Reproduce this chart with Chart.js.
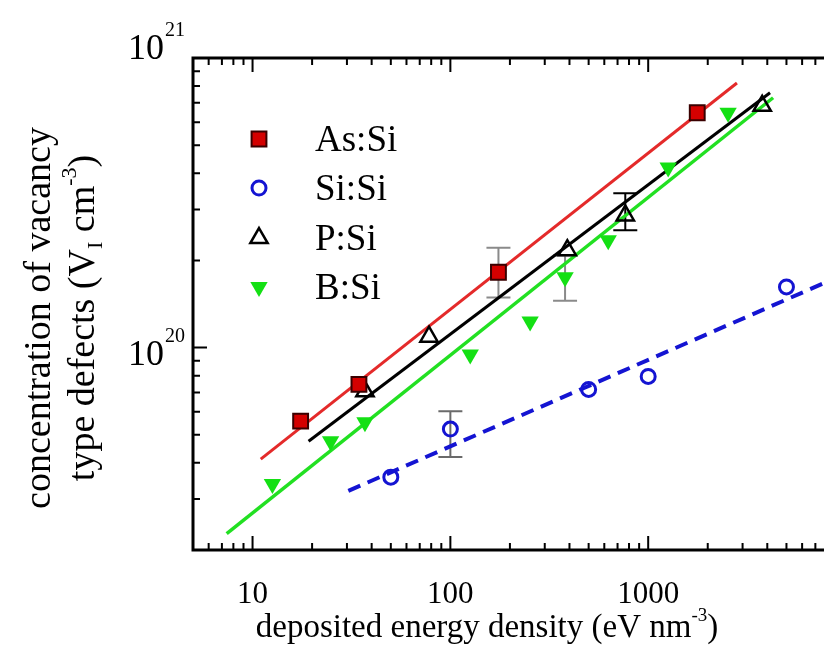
<!DOCTYPE html>
<html>
<head>
<meta charset="utf-8">
<script src="https://cdn.jsdelivr.net/npm/chart.js@4/dist/chart.umd.min.js"></script>
<style>
  html, body { margin: 0; padding: 0; background: #fff; overflow: hidden; }
  #wrap { width: 824px; height: 664px; position: relative; }
</style>
</head>
<body>
<div id="wrap"><canvas id="chart"></canvas></div>
<script>
// values (x: eV nm^-3, y: V_I cm^-3)
const asX = [17.5, 34.5, 175, 1770];
const asY = [5.57e19, 7.46e19, 1.82e20, 6.47e20];
const siX = [50, 100, 500, 1000, 5000];
const siY = [3.57e19, 5.23e19, 7.17e19, 7.95e19, 1.62e20];
const pX = [37, 78, 390, 766, 3770];
const pY = [7.06e19, 1.09e20, 2.17e20, 2.86e20, 6.84e20];
const bX = [12.6, 24.8, 37, 126, 253, 380, 628, 1262, 2535];
const bY = [3.38e19, 4.75e19, 5.52e19, 9.46e19, 1.23e20, 1.75e20, 2.35e20, 4.19e20, 6.47e20];

// error bars: x, low, high
const asErr = [[175, 1.49e20, 2.21e20]];
const siErr = [[100, 4.19e19, 6.03e19]];
const pErr = [[766, 2.54e20, 3.41e20]];
const bErr = [[380, 1.45e20, 2.08e20]];

// fitted lines (end points)
const asFitX = [11.0, 2810];
const asFitY = [4.12e19, 8.2e20];
const pFitX = [19.2, 4130];
const pFitY = [4.75e19, 7.59e20];
const bFitX = [7.4, 4280];
const bFitY = [2.28e19, 7.29e20];
const siFitX = [30.5, 7740];
const siFitY = [3.2e19, 1.67e20];

// axis ticks
const xMajor = [10, 100, 1000];
const xMinor = [5, 6, 7, 8, 9, 20, 30, 40, 50, 60, 70, 80, 90, 200, 300, 400, 500, 600, 700, 800, 900, 2000, 3000, 4000, 5000, 6000, 7000];
const yMajor = [1e20, 1e21];
const yMinor = [3e19, 4e19, 5e19, 6e19, 7e19, 8e19, 9e19, 2e20, 3e20, 4e20, 5e20, 6e20, 7e20, 8e20, 9e20];

const SERIF = '"Liberation Serif", "DejaVu Serif", serif';

function pts(xs, ys) {
    return xs.map((x, i) => ({ x: x, y: ys[i] }));
}

function errs(list, color) {
    return list.map(e => ({ x: e[0], lo: e[1], hi: e[2], color: color }));
}

// text made of pieces: [text, 'sup' | 'sub' | undefined]
function richText(ctx, parts, x, y, size, align) {
    const small = Math.round(size * 0.58);
    let total = 0;
    parts.forEach(p => {
        ctx.font = (p[1] ? small : size) + 'px ' + SERIF;
        total += ctx.measureText(p[0]).width;
    });
    let cx = align === 'center' ? x - total / 2 : align === 'right' ? x - total : x;
    ctx.textAlign = 'left';
    ctx.textBaseline = 'alphabetic';
    parts.forEach(p => {
        ctx.font = (p[1] ? small : size) + 'px ' + SERIF;
        let dy = 0;
        if (p[1] === 'sup') dy = -size * 0.48;
        if (p[1] === 'sub') dy = size * 0.22;
        ctx.fillText(p[0], cx, y + dy);
        cx += ctx.measureText(p[0]).width;
    });
}

function marker(ctx, ds, x, y) {
    ctx.save();
    ctx.fillStyle = ds.backgroundColor;
    ctx.strokeStyle = ds.borderColor || ds.backgroundColor;
    ctx.lineWidth = ds.borderWidth || 0;
    Chart.helpers.drawPoint(ctx, {
        pointStyle: ds.pointStyle,
        radius: ds.pointRadius,
        rotation: ds.pointRotation || 0,
        borderWidth: ds.borderWidth || 0
    }, x, y);
    ctx.restore();
}

const framePlugin = {
    id: 'frame',
    beforeDatasetsDraw(chart) {
        const { ctx, scales: { x, y } } = chart;
        ctx.save();
        ctx.lineWidth = 2;
        chart.data.datasets.forEach(ds => {
            (ds.errorBars || []).forEach(e => {
                const px = x.getPixelForValue(e.x);
                const lo = y.getPixelForValue(e.lo);
                const hi = y.getPixelForValue(e.hi);
                ctx.strokeStyle = e.color;
                ctx.beginPath();
                ctx.moveTo(px, lo); ctx.lineTo(px, hi);
                ctx.moveTo(px - 12, lo); ctx.lineTo(px + 12, lo);
                ctx.moveTo(px - 12, hi); ctx.lineTo(px + 12, hi);
                ctx.stroke();
            });
        });
        ctx.restore();
    },
    afterDraw(chart) {
        const { ctx, chartArea: a, scales: { x, y } } = chart;
        ctx.save();

        // frame (right side is cut off in the original)
        ctx.strokeStyle = '#000';
        ctx.lineWidth = 3;
        ctx.beginPath();
        ctx.moveTo(a.right + 2, a.top);
        ctx.lineTo(a.left, a.top);
        ctx.lineTo(a.left, a.bottom);
        ctx.lineTo(a.right + 2, a.bottom);
        ctx.stroke();

        // inward ticks
        ctx.lineWidth = 2;
        ctx.beginPath();
        const xt = (v, len) => {
            const px = x.getPixelForValue(v);
            if (px <= a.left + 2) return;
            ctx.moveTo(px, a.bottom); ctx.lineTo(px, a.bottom - len);
            ctx.moveTo(px, a.top); ctx.lineTo(px, a.top + len);
        };
        xMajor.forEach(v => xt(v, 14));
        xMinor.forEach(v => xt(v, 7));
        const yt = (v, len) => {
            const py = y.getPixelForValue(v);
            if (py <= a.top + 2) return;
            ctx.moveTo(a.left, py); ctx.lineTo(a.left + len, py);
        };
        yMajor.forEach(v => yt(v, 14));
        yMinor.forEach(v => yt(v, 7));
        ctx.stroke();

        ctx.fillStyle = '#000';

        // y tick labels 10^n
        yMajor.forEach(v => {
            const py = y.getPixelForValue(v);
            const base = py <= a.top + 2 ? a.top + 1 : py + 17;
            const exp = Math.round(Math.log10(v));
            ctx.font = '20px ' + SERIF;
            const supW = ctx.measureText(String(exp)).width;
            ctx.textAlign = 'right';
            ctx.textBaseline = 'alphabetic';
            ctx.fillText(String(exp), 185, base - 23);
            ctx.font = '36px ' + SERIF;
            ctx.fillText('10', 185 - supW - 1, base);
        });

        // x axis title
        richText(ctx, [['deposited energy density (eV nm'], ['-3', 'sup'], [')']], 487, 637, 33, 'center');

        // y axis title (two lines)
        ctx.save();
        ctx.translate(50, 318);
        ctx.rotate(-Math.PI / 2);
        richText(ctx, [['concentration of vacancy']], 0, 0, 38, 'center');
        ctx.restore();
        ctx.save();
        ctx.translate(94, 318);
        ctx.rotate(-Math.PI / 2);
        richText(ctx, [['type defects (V'], ['I', 'sub'], [' cm'], ['-3', 'sup'], [')']], 0, 0, 38, 'center');
        ctx.restore();

        // legend
        const rows = [139, 188, 238, 287];
        chart.data.datasets.filter(ds => !ds.showLine).forEach((ds, i) => {
            marker(ctx, ds, 259, rows[i]);
            ctx.fillStyle = '#000';
            ctx.font = '37px ' + SERIF;
            ctx.textAlign = 'left';
            ctx.textBaseline = 'alphabetic';
            ctx.fillText(ds.label, 315, rows[i] + 12);
        });

        ctx.restore();
    }
};

function initChart() {
    const c = document.getElementById('chart').getContext('2d');
    new Chart(c, {
        type: 'scatter',
        data: {
            datasets: [
                {
                    label: 'As:Si', data: pts(asX, asY), showLine: false, order: 0,
                    pointStyle: 'rect', pointRadius: 10.5, pointHoverRadius: 10.5,
                    backgroundColor: '#d40000', borderColor: '#3a0000', borderWidth: 2,
                    errorBars: errs(asErr, '#8a8a8a')
                },
                {
                    label: 'Si:Si', data: pts(siX, siY), showLine: false, order: 0,
                    pointStyle: 'circle', pointRadius: 7, pointHoverRadius: 7,
                    backgroundColor: 'rgba(255,255,255,0)', borderColor: '#1414d2', borderWidth: 3,
                    errorBars: errs(siErr, '#6a6a6a')
                },
                {
                    label: 'P:Si', data: pts(pX, pY), showLine: false, order: 0,
                    pointStyle: 'triangle', pointRadius: 10, pointHoverRadius: 10,
                    backgroundColor: 'rgba(255,255,255,0)', borderColor: '#000', borderWidth: 2.5,
                    errorBars: errs(pErr, '#000')
                },
                {
                    label: 'B:Si', data: pts(bX, bY), showLine: false, order: 0,
                    pointStyle: 'triangle', pointRotation: 180, pointRadius: 10, pointHoverRadius: 10,
                    backgroundColor: '#14e014', borderColor: '#14e014', borderWidth: 0,
                    errorBars: errs(bErr, '#8a8a8a')
                },
                {
                    label: 'As fit', data: pts(asFitX, asFitY), showLine: true, order: 1,
                    pointRadius: 0, borderColor: '#e42a2a', borderWidth: 3
                },
                {
                    label: 'P fit', data: pts(pFitX, pFitY), showLine: true, order: 1,
                    pointRadius: 0, borderColor: '#000', borderWidth: 3
                },
                {
                    label: 'B fit', data: pts(bFitX, bFitY), showLine: true, order: 1,
                    pointRadius: 0, borderColor: '#22e022', borderWidth: 3.5
                },
                {
                    label: 'Si fit', data: pts(siFitX, siFitY), showLine: true, order: 1,
                    pointRadius: 0, borderColor: '#1414d2', borderWidth: 4, borderDash: [13, 8]
                }
            ]
        },
        options: {
            responsive: true,
            maintainAspectRatio: false,
            animation: false,
            layout: { autoPadding: false, padding: { top: 58, right: 0, left: 0, bottom: 0 } },
            plugins: {
                legend: { display: false },
                tooltip: { enabled: false }
            },
            scales: {
                x: {
                    type: 'logarithmic',
                    position: 'bottom',
                    min: 5,
                    max: 7740,
                    grid: { display: false },
                    border: { display: false },
                    afterBuildTicks: s => { s.ticks = xMajor.map(v => ({ value: v })); },
                    ticks: {
                        callback: v => String(v),
                        font: { family: SERIF, size: 31 },
                        color: '#000',
                        padding: 18,
                        maxRotation: 0,
                        autoSkip: false
                    },
                    afterFit: s => {
                        s.height = 114;
                        s.paddingLeft = 0;
                        s.paddingRight = 0;
                    }
                },
                y: {
                    type: 'logarithmic',
                    min: 2e19,
                    max: 1e21,
                    grid: { display: false },
                    border: { display: false },
                    ticks: { display: false },
                    afterFit: s => {
                        s.width = 193;
                        s.paddingTop = 0;
                        s.paddingBottom = 0;
                    }
                }
            }
        },
        plugins: [framePlugin]
    });
}

window.addEventListener('DOMContentLoaded', initChart);
</script>
</body>
</html>
